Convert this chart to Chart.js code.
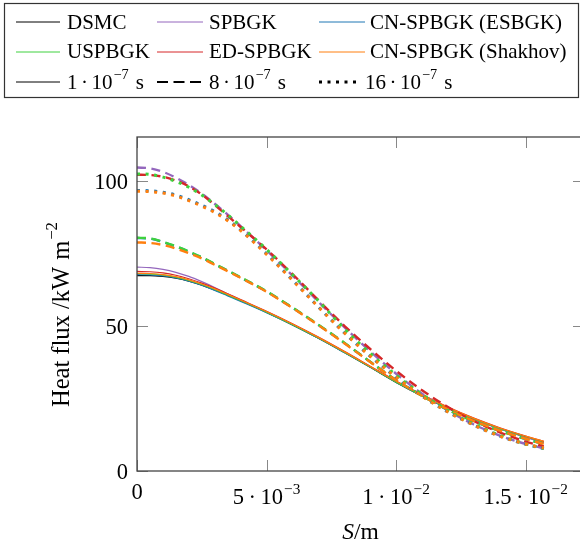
<!DOCTYPE html>
<html><head><meta charset="utf-8">
<script src="https://cdn.jsdelivr.net/npm/chart.js@4.4.1/dist/chart.umd.min.js"></script>
<style>
html,body{margin:0;padding:0;overflow:hidden;background:#fff;width:580px;height:546px}
#wrap{position:absolute;left:0;top:0;width:600px;height:546px}
</style>
</head><body><div id="wrap"><canvas id="c" width="600" height="546"></canvas></div>
<script>
// ---- data ----
const S = [0,0.0005,0.001,0.0015,0.002,0.0025,0.003,0.0035,0.004,0.005,0.006,0.007,0.008,0.009,0.010,0.011,0.012,0.013,0.014,0.015,0.0157];

// t = 1e-7 s (solid)
const dsmc_t1    = [67.3,67.3,67.0,66.4,65.4,64.0,62.3,60.5,58.6,54.6,50.3,45.7,40.8,35.7,30.5,25.8,21.5,17.8,14.6,11.8,10.0];
const spbgk_t1   = [70.2,70.0,69.4,68.4,67.0,65.2,63.2,61.0,58.9,54.8,50.5,45.9,41.0,35.9,30.7,25.9,21.6,17.8,14.5,11.6,9.7];
const esbgk_t1   = [67.6,67.5,67.2,66.5,65.4,64.0,62.2,60.3,58.4,54.5,50.3,45.7,40.8,35.8,30.6,25.9,21.6,17.8,14.5,11.7,9.8];
const uspbgk_t1  = [68.0,67.9,67.5,66.7,65.6,64.2,62.5,60.6,58.7,54.7,50.4,45.8,40.9,35.8,30.6,25.9,21.6,17.8,14.6,11.8,10.0];
const edspbgk_t1 = [68.7,68.6,68.2,67.4,66.2,64.7,63.0,61.0,59.0,55.0,50.7,46.1,41.2,36.1,31.0,26.3,22.0,18.2,14.9,12.0,10.2];
const shakhov_t1 = [68.1,68.0,67.6,66.9,65.8,64.4,62.7,60.8,58.9,54.9,50.6,46.0,41.1,36.0,30.9,26.2,21.9,18.1,14.8,12.0,10.2];

// t = 8e-7 s (dashed)
const spbgk_t8   = [104.5,104.2,103.0,101.0,98.5,95.5,92.0,88.3,84.3,76.0,67.3,58.3,49.5,41.2,33.5,26.6,20.8,16.0,12.2,9.3,7.8];
const esbgk_t8   = [80.2,80.0,78.8,77.3,75.5,73.5,71.2,69.0,66.6,61.8,56.2,50.3,44.1,37.6,31.3,25.9,21.1,17.1,13.8,11.0,9.3];
const uspbgk_t8  = [80.3,80.1,78.9,77.4,75.6,73.6,71.3,69.0,66.7,61.9,56.3,50.4,44.2,37.6,31.3,25.9,21.1,17.1,13.8,11.0,9.3];
const edspbgk_t8 = [102.0,101.9,101.3,100.0,98.0,95.2,91.6,87.8,84.0,76.3,67.8,58.8,50.0,42.0,34.5,27.8,22.0,17.2,13.3,10.1,8.5];
const shakhov_t8 = [78.7,78.5,77.8,76.6,75.0,73.2,71.0,68.8,66.5,61.7,56.1,50.2,44.0,37.5,31.3,25.9,21.2,17.2,13.9,11.1,9.3];

// t = 16e-7 s (dotted)
const esbgk_t16   = [96.6,96.5,96.0,95.0,93.4,91.5,89.3,86.5,83.0,74.8,65.8,56.5,47.6,39.5,32.3,25.8,20.3,15.8,12.0,9.2,7.7];
const uspbgk_t16  = [102.3,102.1,101.2,99.7,97.7,95.0,91.8,88.2,84.3,76.3,67.6,58.6,49.0,40.5,33.0,26.4,20.8,16.1,12.3,9.3,7.8];
const shakhov_t16 = [96.3,96.2,95.7,94.7,93.1,91.2,89.0,86.2,82.8,74.6,65.7,56.5,47.6,39.5,32.3,25.8,20.3,15.8,12.0,9.3,7.9];

const xTicks = [0, 0.005, 0.01, 0.015];
const xTickLabels = [['0',''], ['5','−3'], ['1','−2'], ['1.5','−2']];
const yTicks = [0, 50, 100];
const yTickLabels = ['0','50','100'];

const methodNames = ['DSMC','SPBGK','CN-SPBGK (ESBGK)','USPBGK','ED-SPBGK','CN-SPBGK (Shakhov)'];
const timeLabels = [['1','−7'], ['8','−7'], ['16','−7']];

// ---- styles ----
const COL = {dsmc:'#000000', spbgk:'#9467bd', esbgk:'#1f77b4', uspbgk:'#3ed13e', edspbgk:'#d62728', shakhov:'#ff7f0e'};
const STY = {
  solid:  {borderWidth:1.2, borderDash:[]},
  dashed: {borderWidth:2.4, borderDash:[9,5.5]},
  dotted: {borderWidth:3,   borderDash:[3,5.6]}
};
function mk(label, color, vals, style){
  return Object.assign({
    label, borderColor:color, backgroundColor:color, fill:false,
    data: S.map((s,i)=>({x:s, y:vals[i]})),
    pointRadius:0, cubicInterpolationMode:'monotone', borderCapStyle:'butt'
  }, STY[style]);
}
// bottom -> top drawing order
const drawOrder = [
  mk('DSMC 1', COL.dsmc, dsmc_t1, 'solid'),
  mk('ESBGK 1', COL.esbgk, esbgk_t1, 'solid'),
  mk('SPBGK 1', COL.spbgk, spbgk_t1, 'solid'),
  mk('USPBGK 1', COL.uspbgk, uspbgk_t1, 'solid'),
  mk('ED 1', COL.edspbgk, edspbgk_t1, 'solid'),
  mk('Shakhov 1', COL.shakhov, shakhov_t1, 'solid'),
  mk('SPBGK 8', COL.spbgk, spbgk_t8, 'dashed'),
  mk('ESBGK 8', COL.esbgk, esbgk_t8, 'dashed'),
  mk('USPBGK 8', COL.uspbgk, uspbgk_t8, 'dashed'),
  mk('ED 8', COL.edspbgk, edspbgk_t8, 'dashed'),
  mk('Shakhov 8', COL.shakhov, shakhov_t8, 'dashed'),
  mk('ESBGK 16', COL.esbgk, esbgk_t16, 'dotted'),
  mk('USPBGK 16', COL.uspbgk, uspbgk_t16, 'dotted'),
  mk('Shakhov 16', COL.shakhov, shakhov_t16, 'dotted')
];
const datasets = drawOrder.slice().reverse(); // Chart.js draws first dataset on top

const FONT = '"Liberation Serif", "Times New Roman", serif';
function rich(ctx, parts, x, y, align, size){
  let w = 0; const items = [];
  for (const p of parts){
    if (p.gap){ items.push({gap:p.gap}); w += p.gap; continue; }
    const fs = p.sup ? size*0.68 : size;
    const font = (p.it ? 'italic ' : '') + fs + 'px ' + FONT;
    ctx.font = font;
    const pw = ctx.measureText(p.t).width;
    items.push({t:p.t, font, w:pw, dy: p.sup ? -size*0.46 : 0});
    w += pw;
  }
  let cx = align === 'center' ? x - w/2 : align === 'right' ? x - w : x;
  ctx.textAlign = 'left'; ctx.textBaseline = 'alphabetic';
  for (const it of items){
    if (it.gap){ cx += it.gap; continue; }
    ctx.font = it.font; ctx.fillText(it.t, cx, y + it.dy); cx += it.w;
  }
}
function sciParts(mant, exp, g){
  if (!exp) return [{t:mant}];
  return [{t:mant},{gap:g},{t:'·'},{gap:g},{t:'10'},{gap:1},{t:exp, sup:true}];
}

const decor = {
  id:'decor',
  afterDraw(chart){
    const ctx = chart.ctx, a = chart.chartArea;
    const xs = chart.scales.x, ys = chart.scales.y;
    ctx.save();
    // ticks
    ctx.strokeStyle = '#888'; ctx.lineWidth = 1;
    ctx.beginPath();
    xTicks.forEach(v => {
      const px = Math.round(xs.getPixelForValue(v)) + 0.5;
      ctx.moveTo(px, a.bottom); ctx.lineTo(px, a.bottom - 11);
      ctx.moveTo(px, a.top); ctx.lineTo(px, a.top + 11);
    });
    yTicks.forEach(v => {
      const py = Math.round(ys.getPixelForValue(v)) + 0.5;
      ctx.moveTo(a.left, py); ctx.lineTo(a.left + 11, py);
      ctx.moveTo(a.right, py); ctx.lineTo(a.right - 11, py);
    });
    ctx.stroke();
    // box
    ctx.strokeStyle = '#444'; ctx.lineWidth = 1.3;
    ctx.strokeRect(a.left, a.top, a.right - a.left, a.bottom - a.top);
    // tick labels
    ctx.fillStyle = '#000';
    const TS = 22.5;
    xTicks.forEach((v,i) => {
      const px = xs.getPixelForValue(v);
      const [m, e] = xTickLabels[i];
      rich(ctx, sciParts(m, e, 4.5), px, a.bottom + (e ? 33 : 28), 'center', TS);
    });
    yTicks.forEach((v,i) => {
      const py = ys.getPixelForValue(v);
      rich(ctx, [{t:yTickLabels[i]}], a.left - 9, py + 8, 'right', TS);
    });
    // axis titles
    rich(ctx, [{t:'S', it:true},{t:'/m'}], (a.left + a.right)/2, 539, 'center', 23.5);
    ctx.save();
    ctx.translate(68.5, 407); ctx.rotate(-Math.PI/2);
    rich(ctx, [{t:'Heat flux /kW'},{gap:7},{t:'m'},{gap:1},{t:'−2', sup:true}], 0, 0, 'left', 24.5);
    ctx.restore();

    // legend box
    ctx.strokeStyle = '#333'; ctx.lineWidth = 1.2;
    ctx.strokeRect(4.5, 3.5, 574, 94);
    const colX = [[16,60,67],[157,203,209],[319,365,370]];
    const rowY = [22, 52, 82];
    const rowBase = [28.5, 58, 89];
    const mcols = [COL.dsmc, COL.spbgk, COL.esbgk, COL.uspbgk, COL.edspbgk, COL.shakhov];
    const LS = 21;
    for (let i = 0; i < 6; i++){
      const r = Math.floor(i/3), c = i % 3;
      ctx.strokeStyle = mcols[i]; ctx.lineWidth = 1; ctx.setLineDash([]);
      ctx.beginPath(); ctx.moveTo(colX[c][0], rowY[r]); ctx.lineTo(colX[c][1], rowY[r]); ctx.stroke();
      ctx.fillStyle = '#000';
      rich(ctx, [{t:methodNames[i]}], colX[c][2], rowBase[r], 'left', LS);
    }
    const lstyles = [{w:1, d:[]}, {w:2.2, d:[11,5.5]}, {w:3, d:[3,5.5]}];
    for (let c = 0; c < 3; c++){
      ctx.strokeStyle = '#000'; ctx.lineWidth = lstyles[c].w; ctx.setLineDash(lstyles[c].d);
      const x1 = c === 2 ? 361 : colX[c][1];
      ctx.beginPath(); ctx.moveTo(colX[c][0], rowY[2]); ctx.lineTo(x1, rowY[2]); ctx.stroke();
      ctx.setLineDash([]);
      const [m, e] = timeLabels[c];
      const tx = c === 2 ? 365 : colX[c][2];
      rich(ctx, sciParts(m, e, 3.5).concat([{gap:7},{t:'s'}]), tx, rowBase[2], 'left', LS);
    }
    ctx.restore();
  }
};

new Chart(document.getElementById('c'), {
  type:'line',
  data:{datasets},
  options:{
    responsive:false, devicePixelRatio:1, animation:false, events:[],
    layout:{padding:{left:137, right:16, top:137, bottom:75}},
    plugins:{legend:{display:false}, tooltip:{enabled:false}, title:{display:false}},
    scales:{
      x:{type:'linear', min:0, max:0.01725, display:false},
      y:{type:'linear', min:0, max:115, display:false}
    }
  },
  plugins:[decor]
});
</script>
</body></html>
